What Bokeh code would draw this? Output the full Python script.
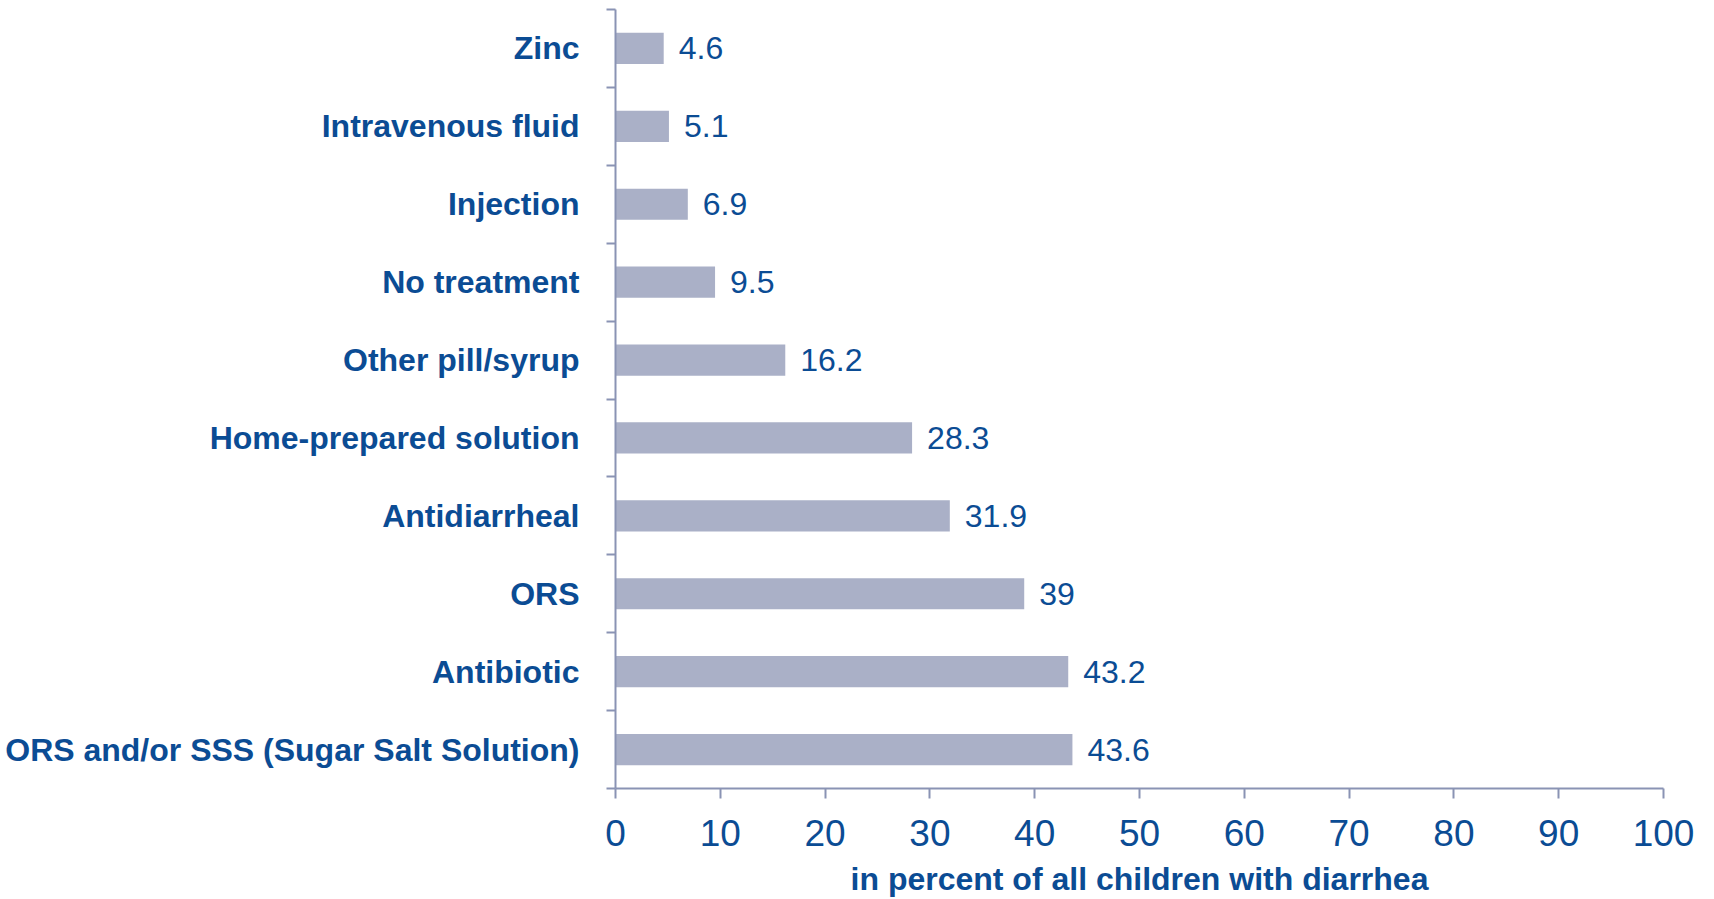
from bokeh.plotting import figure
from bokeh.models import FixedTicker, ColumnDataSource, Range1d
from bokeh.core.properties import value
from bokeh.embed import file_html
from bokeh.resources import INLINE

# Data (bottom to top)
categories = [
    "ORS and/or SSS (Sugar Salt Solution)",
    "Antibiotic",
    "ORS",
    "Antidiarrheal",
    "Home-prepared solution",
    "Other pill/syrup",
    "No treatment",
    "Injection",
    "Intravenous fluid",
    "Zinc",
]
values = [43.6, 43.2, 39, 31.9, 28.3, 16.2, 9.5, 6.9, 5.1, 4.6]
x_ticks = [0, 10, 20, 30, 40, 50, 60, 70, 80, 90, 100]
x_title = "in percent of all children with diarrhea"

TEXT = "#0B4C94"
BAR = "#AAB0C7"
AXIS = "#8A93B4"
FONT = "Liberation Sans"

pos = [i + 0.5 for i in range(len(categories))]
labels = [f"{v:g}" for v in values]
src = ColumnDataSource(dict(y=pos, v=values, lab=labels))

p = figure(
    width=1714, height=899,
    x_range=Range1d(0, 100), y_range=Range1d(0, len(categories)),
    output_backend="svg", toolbar_location=None,
    min_border_left=615, min_border_right=51, min_border_top=9, min_border_bottom=110,
)
p.outline_line_color = None
p.grid.visible = False
p.background_fill_color = "white"
p.border_fill_color = "white"

p.hbar(y="y", left=0, right="v", height=0.4, source=src, fill_color=BAR, line_color=None)
p.text(x="v", y="y", text="lab", source=src, x_offset=15, text_baseline="middle",
       text_align="left", text_color=TEXT, text_font=value(FONT), text_font_size="32px")

# x axis
xa = p.xaxis[0]
xa.ticker = FixedTicker(ticks=x_ticks, minor_ticks=[])
xa.axis_line_color = AXIS
xa.axis_line_width = 2
xa.major_tick_line_color = AXIS
xa.major_tick_line_width = 2
xa.major_tick_out = 10
xa.major_tick_in = 0
xa.minor_tick_line_color = None
xa.major_label_text_font = FONT
xa.major_label_text_font_size = "37px"
xa.major_label_text_color = TEXT
xa.major_label_standoff = 21
xa.axis_label = x_title
xa.axis_label_text_font = FONT
xa.axis_label_text_font_style = "bold"
xa.axis_label_text_font_size = "32px"
xa.axis_label_text_color = TEXT
xa.axis_label_standoff = 12

# y axis: labels at centers (major), ticks at boundaries (minor)
ya = p.yaxis[0]
ya.ticker = FixedTicker(ticks=pos, minor_ticks=list(range(len(categories) + 1)))
ya.major_label_overrides = {pp: c for pp, c in zip(pos, categories)}
ya.axis_line_color = AXIS
ya.axis_line_width = 2
ya.major_tick_line_color = None
ya.major_tick_out = 0
ya.major_tick_in = 0
ya.minor_tick_line_color = AXIS
ya.minor_tick_line_width = 2
ya.minor_tick_out = 9
ya.minor_tick_in = 0
ya.major_label_text_font = FONT
ya.major_label_text_font_style = "bold"
ya.major_label_text_font_size = "32px"
ya.major_label_text_color = TEXT
ya.major_label_standoff = 27

open("out.html", "w").write(file_html(p, INLINE))
